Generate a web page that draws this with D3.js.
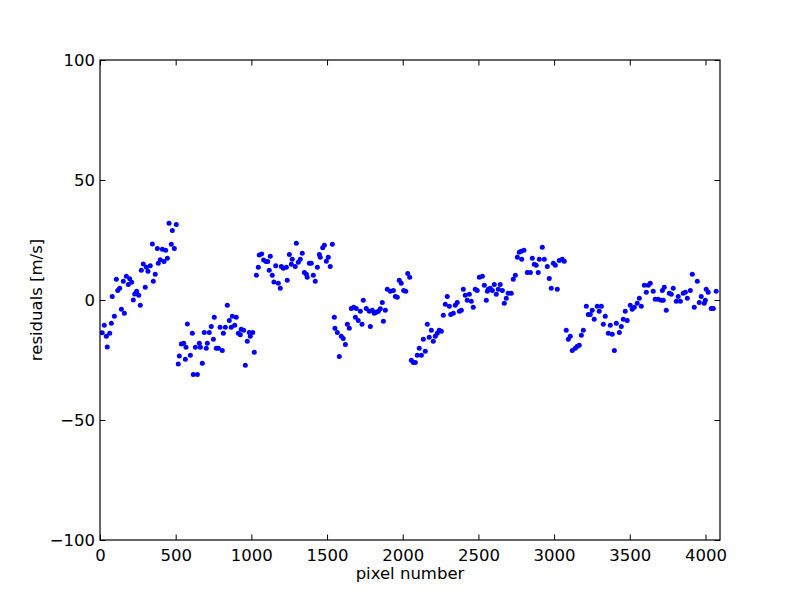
<!DOCTYPE html>
<html>
<head>
<meta charset="utf-8">
<script src="https://cdn.jsdelivr.net/npm/d3@7"></script>
<style>
  html, body { margin: 0; padding: 0; background: #fff; }
  svg { display: block; }
  text { font-family: "DejaVu Sans", sans-serif; fill: #000; }
</style>
</head>
<body>
<svg id="chart" width="800" height="600"></svg>
<script>
// pixel number (x) of each residual point
const pixels = [
  456, 504, 478, 346, 379, 412, 434, 471, 491, 445, 423, 398, 385, 286, 332, 306, 273, 317, 365, 352,
  299, 108, 174, 196, 154, 209, 187, 130, 117, 81, 242, 229, 256, 220, 266, 141, 161, 95, 75, 28,
  15, 64, 42, 48, 577, 537, 553, 568, 524, 564, 517,
  1052, 1068, 1125, 1081, 1097, 1108, 1046, 1118, 1161, 1033, 1138, 1149,
  841, 755, 874, 900, 854, 735, 793, 828, 867, 890, 933, 949, 610, 689, 722, 815, 914, 927, 986, 1009,
  993, 749, 973, 656, 709, 630, 663, 702, 768, 782, 808, 597, 1019, 676, 960, 616, 643,
  1297, 1482, 1471, 1535, 1251, 1336, 1449, 1455, 1508, 1495, 1270, 1323, 1310, 1264, 1290, 1383, 1396,
  1198, 1211, 1231, 1436, 1521, 1350, 1363, 1409, 1369, 1237, 1422, 1178, 1191,
  1548, 1552, 1568, 1594, 1607, 1621, 1581, 1660, 1676, 1693, 1720, 1687, 1706, 1634, 1647, 1731, 1739,
  2033, 2046, 1977, 1990, 1898, 1918, 1938, 2006, 2020, 1951, 1964, 1865, 1759, 1885, 1799, 1779, 1812,
  1825, 1839, 1852, 1872, 1786,
  2294, 2281, 2308, 2268, 2317, 2162, 2189, 2241, 2255, 2228, 2215, 2175, 2136, 2202, 2109, 2149, 2096,
  2123, 2057, 2070, 2083,
  2801, 2783, 2770, 2757, 2786, 2856, 2902, 2869, 2882, 2823, 2843, 2895, 2744, 2730, 2506, 2526, 2539,
  2605, 2644, 2400, 2479, 2492, 2565, 2578, 2592, 2631, 2658, 2559, 2618, 2697, 2717, 2684, 2671, 2413,
  2440, 2426, 2453, 2552, 2360, 2347, 2466, 2387, 2374, 2334,
  2922, 2935, 3034, 3054, 3067, 2995, 3008, 2955, 2968, 2981, 3021,
  3213, 3285, 3312, 3252, 3298, 3470, 3226, 3239, 3338, 3265, 3457, 3483, 3325, 3371, 3411, 3444, 3193,
  3080, 3180, 3107, 3094, 3358, 3384, 3431, 3166, 3153, 3140, 3120, 3398,
  3913, 3946, 3596, 3622, 3635, 3609, 3655, 3728, 3715, 3787, 3761, 3774, 3867, 3853, 3900, 4005, 4018,
  4071, 3820, 3972, 3880, 3563, 3668, 3688, 3708, 3721, 3807, 3834, 3999, 3959, 3992, 3549, 3503, 3576,
  3530, 3516, 3926, 4038, 4052, 3741
];
// residual (m/s) of each point, same order as pixels
const residuals = [
  32.0, 31.5, 29.0, 23.3, 21.5, 21.1, 20.7, 23.2, 21.5, 17.4, 16.0, 16.8, 15.3, 15.0, 14.3, 13.6, 12.4, 12.0, 10.7, 7.8,
  5.3, 8.6, 9.9, 8.9, 7.8, 7.4, 6.5, 4.9, 4.0, 1.5, 3.6, 2.5, 2.0, 0.0, -2.2, -3.9, -5.5, -6.8, -9.7, -10.5,
  -13.6, -13.9, -15.1, -19.6, -10.0, -18.3, -18.0, -19.7, -23.3, -24.7, -26.7,
  18.8, 19.2, 18.2, 16.7, 16.0, 16.0, 13.6, 12.4, 14.3, 10.3, 10.3, 7.5,
  -2.2, -7.2, -6.8, -7.2, -8.5, -11.0, -11.4, -11.4, -11.4, -10.5, -12.2, -12.6, -13.9, -13.5, -13.5, -13.9, -13.9, -14.5, -13.5, -13.5,
  -15.1, -16.4, -17.2, -18.0, -18.0, -19.7, -19.7, -20.1, -20.1, -20.1, -21.0, -23.0, -21.8, -26.4, -27.2, -31.0, -31.0,
  23.6, 22.8, 21.8, 23.2, 19.0, 19.5, 19.0, 17.8, 17.8, 16.1, 17.0, 17.0, 15.7, 14.9, 14.0, 15.3, 15.3,
  14.0, 13.2, 13.6, 13.6, 14.0, 11.5, 10.7, 10.3, 9.5, 8.2, 7.8, 7.0, 4.9,
  -7.2, -11.8, -13.5, -15.1, -16.0, -18.5, -23.5, -3.5, -3.0, -3.5, -4.7, -7.2, -8.5, -10.1, -11.8, -10.1, -0.1,
  11.0, 9.5, 8.2, 7.0, 4.5, 3.6, 4.0, 4.0, 3.6, 1.5, 1.1, -1.0, -3.5, -4.3, -4.3, -4.7, -5.5,
  -5.1, -4.7, -3.6, -8.9, -11.0,
  1.5, -1.8, -2.6, -6.4, -6.0, -10.1, -12.6, -12.6, -13.0, -13.9, -15.1, -15.5, -16.4, -17.2, -20.1, -21.4, -23.0,
  -23.0, -25.1, -26.0, -26.0,
  20.7, 20.3, 19.9, 17.8, 17.0, 17.4, 17.0, 14.9, 14.5, 11.5, 11.5, 11.5, 10.3, 8.6, 9.5, 9.9, 6.1,
  6.5, 6.5, 4.5, 4.5, 4.0, 4.5, 4.9, 4.0, 4.5, 4.0, 3.6, 2.4, 2.8, 2.8, 0.7, -1.4, 2.0,
  2.4, -0.1, -0.5, -0.1, -1.0, -2.2, -3.0, -4.3, -4.7, -5.5,
  22.0, 17.0, 16.5, 17.0, 16.1, 15.3, 14.5, 14.0, 9.0, 4.9, 4.5,
  -2.6, -2.6, -2.6, -4.3, -4.7, -4.7, -6.0, -6.0, -6.8, -8.0, -8.0, -8.5, -10.1, -10.5, -9.7, -11.0, -12.6,
  -12.6, -14.7, -15.1, -16.4, -13.9, -14.3, -13.5, -18.9, -19.3, -20.1, -21.0, -21.0,
  10.7, 7.8, 6.1, 6.1, 7.0, 3.2, 3.6, 5.3, 4.0, 4.9, 2.8, 2.4, 3.2, 2.8, 4.0, 4.5, 3.2,
  3.6, 1.5, 1.5, 0.7, 0.7, 0.3, 0.3, -0.1, -0.1, -0.5, -0.5, -0.1, -1.0, -1.4, -1.4, -2.2, -2.6,
  -3.0, -3.9, -3.0, -3.5, -3.5, -4.3
];
const xTicks = [0, 500, 1000, 1500, 2000, 2500, 3000, 3500, 4000];
const yTicks = [-100, -50, 0, 50, 100];
const xLabel = "pixel number";
const yLabel = "residuals [m/s]";

const svg = d3.select("#chart");
const L = 100, R = 720, T = 60, B = 540;
const x = d3.scaleLinear().domain([0, 4096]).range([L, R]);
const y = d3.scaleLinear().domain([-100, 100]).range([B, T]);

const pts = pixels.map((p, i) => ({ p, r: residuals[i] }));

// points (clipped to axes)
svg.append("clipPath").attr("id", "clip")
  .append("rect").attr("x", L).attr("y", T).attr("width", R - L).attr("height", B - T);
svg.append("g").attr("clip-path", "url(#clip)")
  .selectAll("circle").data(pts).enter().append("circle")
  .attr("cx", d => x(d.p)).attr("cy", d => y(d.r)).attr("r", 2.5)
  .attr("fill", "#0000ff");

const fmt = d => (d < 0 ? "\u2212" + Math.abs(d) : String(d));
const tickLen = 5.5;

// bottom axis (ticks inward)
const xb = svg.append("g").attr("transform", `translate(0,${B})`)
  .call(d3.axisBottom(x).tickValues(xTicks).tickSizeInner(-tickLen).tickSizeOuter(0).tickPadding(9).tickFormat(fmt));
// top axis ticks
const xt = svg.append("g").attr("transform", `translate(0,${T})`)
  .call(d3.axisTop(x).tickValues(xTicks).tickSizeInner(-tickLen).tickSizeOuter(0).tickFormat(""));
// left axis
const yl = svg.append("g").attr("transform", `translate(${L},0)`)
  .call(d3.axisLeft(y).tickValues(yTicks).tickSizeInner(-tickLen).tickSizeOuter(0).tickPadding(5).tickFormat(fmt));
// right axis ticks
const yr = svg.append("g").attr("transform", `translate(${R},0)`)
  .call(d3.axisRight(y).tickValues(yTicks).tickSizeInner(-tickLen).tickSizeOuter(0).tickFormat(""));

[xb, xt, yl, yr].forEach(g => {
  g.select(".domain").remove();
  g.selectAll("line").attr("stroke", "#000").attr("stroke-width", 1);
  g.selectAll("text").attr("font-family", "DejaVu Sans, sans-serif").attr("font-size", 16.5).attr("fill", "#000");
});
xb.selectAll("text").attr("dy", "0.71em");

// frame
svg.append("rect").attr("x", L).attr("y", T).attr("width", R - L).attr("height", B - T)
  .attr("fill", "none").attr("stroke", "#000").attr("stroke-width", 1.2);

// labels
svg.append("text").attr("x", (L + R) / 2).attr("y", 579).attr("text-anchor", "middle")
  .attr("font-size", 16.5).text(xLabel);
svg.append("text").attr("transform", `translate(42,${(T + B) / 2}) rotate(-90)`)
  .attr("text-anchor", "middle").attr("font-size", 16.5).text(yLabel);
</script>
</body>
</html>
